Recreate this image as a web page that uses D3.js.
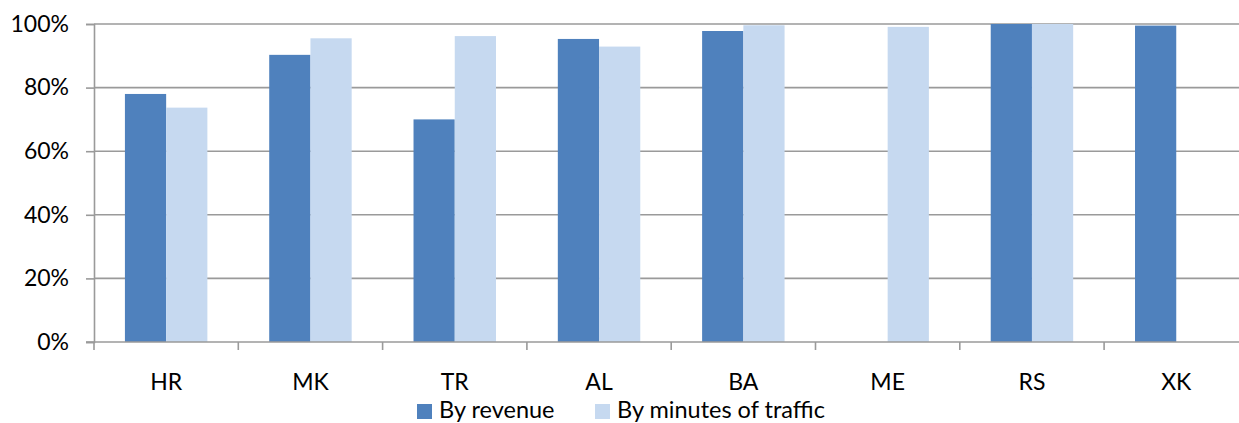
<!DOCTYPE html>
<html>
<head>
<meta charset="utf-8">
<script src="https://cdn.jsdelivr.net/npm/d3@7"></script>
<style>
  html, body { margin: 0; padding: 0; background: #fff; }
  svg { display: block; }
  text { font-family: Lato, "Open Sans", sans-serif; fill: #000; }
</style>
</head>
<body>
<svg id="chart" width="1239" height="423"></svg>
<script>
// Share of each market, by revenue and by minutes of traffic
const categories = ["HR", "MK", "TR", "AL", "BA", "ME", "RS", "XK"];
const seriesNames = ["By revenue", "By minutes of traffic"];
const byRevenue = [0.780, 0.903, 0.700, 0.953, 0.978, null, 1.000, 0.995];
const byMinutes = [0.737, 0.955, 0.962, 0.929, 0.996, 0.991, 1.000, null];
const yTicks = [0, 0.2, 0.4, 0.6, 0.8, 1.0];
const colors = ["#4F81BD", "#C6D9F0"];

const svg = d3.select("#chart");
const plotLeft = 94, plotTop = 24, plotBottom = 342;
const step = 144.3;

const x0 = d3.scaleBand()
  .domain(categories)
  .range([plotLeft, plotLeft + step * categories.length])
  .paddingInner(0).paddingOuter(0);

const x1 = d3.scaleBand()
  .domain(seriesNames)
  .range([0, x0.bandwidth()])
  .paddingInner(0).paddingOuter(0.75);

const y = d3.scaleLinear().domain([0, 1]).range([plotBottom, plotTop]);

// horizontal gridlines
svg.append("g")
  .selectAll("line")
  .data(yTicks.filter(d => d > 0))
  .join("line")
  .attr("x1", plotLeft).attr("x2", 1239)
  .attr("y1", d => y(d)).attr("y2", d => y(d))
  .attr("stroke", "#9a9a9a").attr("stroke-width", 1.6);

// bars
const rows = categories.map((c, i) => ({ cat: c, vals: [byRevenue[i], byMinutes[i]] }));
const groups = svg.append("g")
  .selectAll("g")
  .data(rows)
  .join("g")
  .attr("transform", d => `translate(${x0(d.cat)},0)`);

groups.selectAll("rect")
  .data(d => d.vals.map((v, k) => ({ name: seriesNames[k], v, k })).filter(e => e.v != null))
  .join("rect")
  .attr("x", e => x1(e.name))
  .attr("width", x1.bandwidth())
  .attr("y", e => y(e.v))
  .attr("height", e => y(0) - y(e.v))
  .attr("fill", e => colors[e.k]);

// y axis
const yAxis = svg.append("g")
  .attr("transform", `translate(${plotLeft},0)`)
  .call(d3.axisLeft(y).tickValues(yTicks).tickFormat(d3.format(".0%")).tickSize(8).tickPadding(17));
yAxis.select(".domain").attr("stroke", "#9a9a9a").attr("stroke-width", 1.6);
yAxis.selectAll(".tick line").attr("stroke", "#9a9a9a").attr("stroke-width", 1.6);
yAxis.selectAll("text").attr("font-size", 23).attr("font-family", "Lato, sans-serif").attr("fill", "#000");

// x axis baseline and category separators
svg.append("line")
  .attr("x1", plotLeft - 8).attr("x2", 1239)
  .attr("y1", y(0)).attr("y2", y(0))
  .attr("stroke", "#9a9a9a").attr("stroke-width", 1.6);

svg.append("g")
  .selectAll("line")
  .data(categories)
  .join("line")
  .attr("x1", d => x0(d)).attr("x2", d => x0(d))
  .attr("y1", y(0)).attr("y2", y(0) + 8)
  .attr("stroke", "#9a9a9a").attr("stroke-width", 1.6);

// category labels
svg.append("g")
  .selectAll("text")
  .data(categories)
  .join("text")
  .attr("x", d => x0(d) + x0.bandwidth() / 2)
  .attr("y", 389.5)
  .attr("text-anchor", "middle")
  .attr("font-size", 23)
  .text(d => d);

// legend
const legendX = [417, 595];
const legend = svg.append("g")
  .selectAll("g")
  .data(seriesNames)
  .join("g")
  .attr("transform", (d, i) => `translate(${legendX[i]},0)`);
legend.append("rect")
  .attr("x", 0).attr("y", 404).attr("width", 15).attr("height", 15)
  .attr("fill", (d, i) => colors[i]);
legend.append("text")
  .attr("x", 22).attr("y", 418)
  .attr("font-size", 23.5)
  .text(d => d);
</script>
</body>
</html>
